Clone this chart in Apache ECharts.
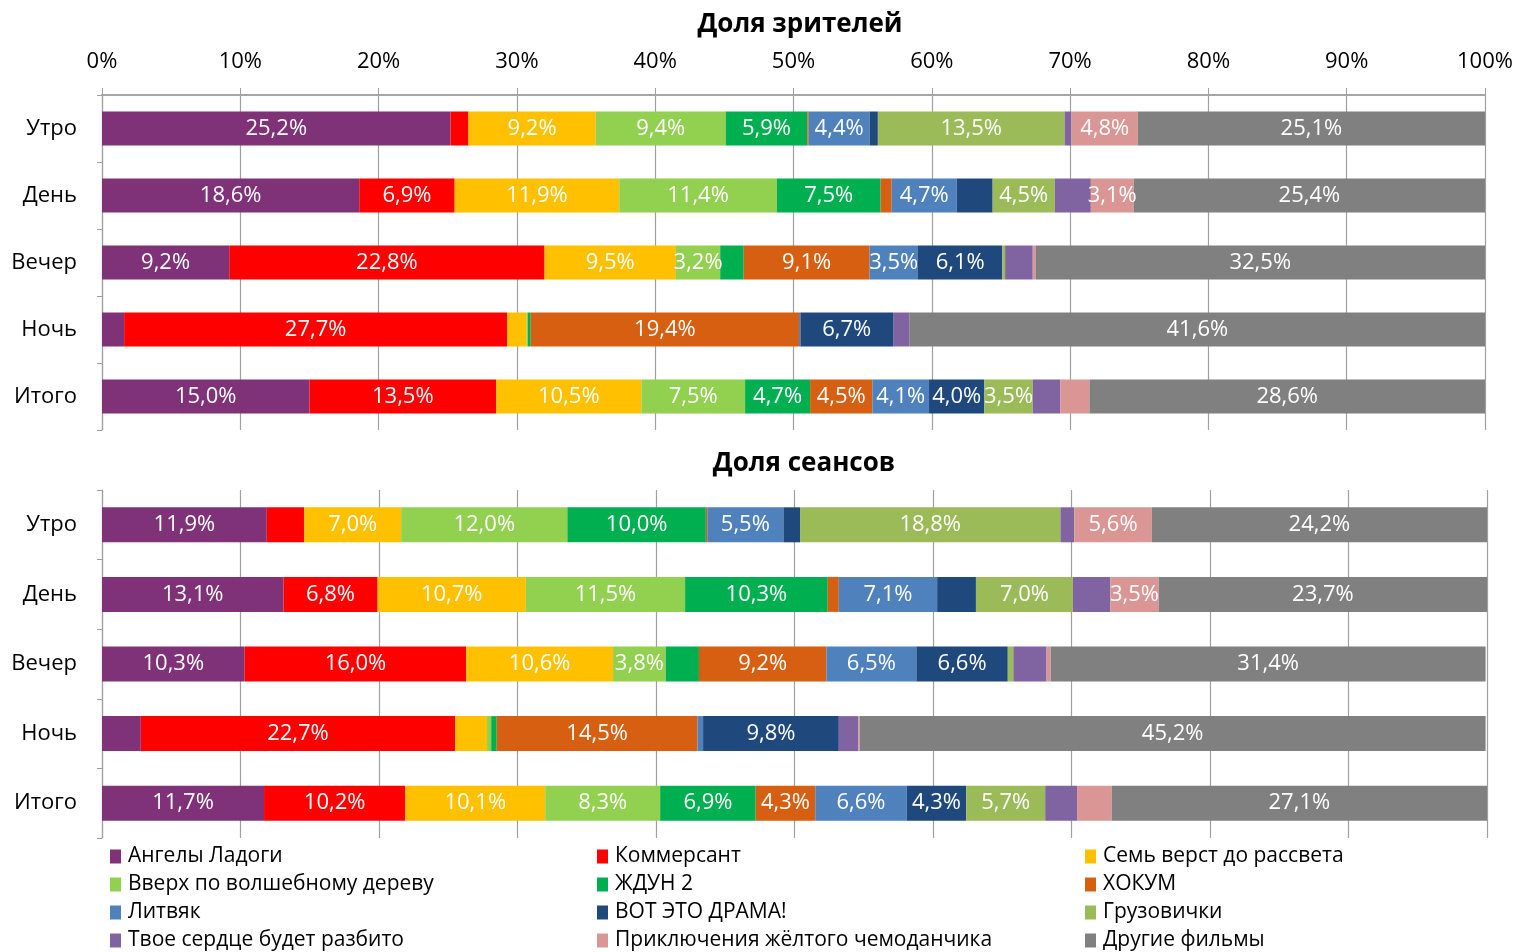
<!doctype html>
<html>
<head>
<meta charset="utf-8">
<script src="https://cdn.jsdelivr.net/npm/echarts@6/dist/echarts.min.js"></script>
<style>
  html, body { margin: 0; padding: 0; background: #fff; }
  #main { width: 1519px; height: 952px; }
</style>
</head>
<body>
<div id="main"></div>
<script>
// периоды суток
var periods = ['Утро', 'День', 'Вечер', 'Ночь', 'Итого'];

var films = ['Ангелы Ладоги', 'Коммерсант', 'Семь верст до рассвета',
  'Вверх по волшебному дереву', 'ЖДУН 2', 'ХОКУМ',
  'Литвяк', 'ВОТ ЭТО ДРАМА!', 'Грузовички',
  'Твое сердце будет разбито', 'Приключения жёлтого чемоданчика', 'Другие фильмы'];

var filmColors = ['#7F3278', '#FF0000', '#FFC000', '#92D050', '#00B050', '#D65F12',
  '#4F81BD', '#1F497D', '#9BBB59', '#8064A2', '#D99694', '#808080'];

// доля зрителей, % (Утро, День, Вечер, Ночь, Итого) по фильмам
var viewerShare = [
  [25.2, 18.6, 9.2, 1.6, 15.0],
  [1.3, 6.9, 22.8, 27.7, 13.5],
  [9.2, 11.9, 9.5, 1.4, 10.5],
  [9.4, 11.4, 3.2, 0.1, 7.5],
  [5.9, 7.5, 1.7, 0.2, 4.7],
  [0.1, 0.8, 9.1, 19.4, 4.5],
  [4.4, 4.7, 3.5, 0.1, 4.1],
  [0.6, 2.6, 6.1, 6.7, 4.0],
  [13.5, 4.5, 0.2, 0.0, 3.5],
  [0.5, 2.6, 2.0, 1.2, 2.0],
  [4.8, 3.1, 0.2, 0.0, 2.1],
  [25.1, 25.4, 32.5, 41.6, 28.6]
];

// доля сеансов, %
var sessionShare = [
  [11.9, 13.1, 10.3, 2.8, 11.7],
  [2.7, 6.8, 16.0, 22.7, 10.2],
  [7.0, 10.7, 10.6, 2.3, 10.1],
  [12.0, 11.5, 3.8, 0.3, 8.3],
  [10.0, 10.3, 2.4, 0.4, 6.9],
  [0.1, 0.8, 9.2, 14.5, 4.3],
  [5.5, 7.1, 6.5, 0.4, 6.6],
  [1.2, 2.8, 6.6, 9.8, 4.3],
  [18.8, 7.0, 0.4, 0.0, 5.7],
  [1.0, 2.7, 2.4, 1.4, 2.3],
  [5.6, 3.5, 0.3, 0.1, 2.5],
  [24.2, 23.7, 31.4, 45.2, 27.1]
];

var FONT = '"Open Sans", sans-serif';
var gridColor = '#A0A0A0';

function pct(v) {
  return v.toFixed(1).replace('.', ',') + '%';
}

function makeSeries(values, idx, barW) {
  return values.map(function (vals, i) {
    return {
      name: films[i],
      type: 'bar',
      stack: 'g' + idx,
      xAxisIndex: idx,
      yAxisIndex: idx,
      barWidth: barW,
      data: vals,
      itemStyle: { color: filmColors[i] },
      label: {
        show: true,
        position: 'inside',
        color: '#fff',
        fontFamily: FONT,
        fontSize: 22,
        formatter: function (p) { return p.value >= 3 ? pct(p.value) : ''; }
      }
    };
  });
}

function xAxisCfg(idx, withLabels) {
  return {
    type: 'value',
    gridIndex: idx,
    position: 'top',
    min: 0, max: 100, interval: 10,
    axisLine: { show: withLabels, lineStyle: { color: '#A6A6A6', width: 2 } },
    axisTick: { show: withLabels, length: 7, lineStyle: { color: gridColor } },
    axisLabel: {
      show: withLabels, margin: 22, color: '#000',
      fontFamily: FONT, fontSize: 22,
      formatter: '{value}%'
    },
    splitLine: { show: true, lineStyle: { color: gridColor, width: 1.2 } }
  };
}

function yAxisCfg(idx) {
  return {
    type: 'category',
    gridIndex: idx,
    inverse: true,
    data: periods,
    axisLine: { show: true, lineStyle: { color: gridColor, width: 1.2 } },
    axisTick: { show: true, length: 5, lineStyle: { color: gridColor } },
    axisLabel: { margin: 25, color: '#000', fontFamily: FONT, fontSize: 22 }
  };
}

function legendCol(x, items) {
  return {
    orient: 'vertical',
    left: x, top: 846, height: 140,
    padding: 0,
    icon: 'rect',
    itemWidth: 11, itemHeight: 14,
    itemGap: 7,
    data: items,
    textStyle: { color: '#000', fontFamily: FONT, fontSize: 21, lineHeight: 21, padding: [0, 0, 0, 2] }
  };
}

var chart = echarts.init(document.getElementById('main'));

chart.setOption({
  animation: false,
  backgroundColor: '#fff',
  title: [
    { text: 'Доля зрителей', left: 795, top: 7, textAlign: 'center',
      textStyle: { fontFamily: FONT, fontSize: 26, fontWeight: 'bold', color: '#000' } },
    { text: 'Доля сеансов', left: 799, top: 446, textAlign: 'center',
      textStyle: { fontFamily: FONT, fontSize: 26, fontWeight: 'bold', color: '#000' } }
  ],
  legend: [
    legendCol(110, [films[0], films[3], films[6], films[9]]),
    legendCol(597, [films[1], films[4], films[7], films[10]]),
    legendCol(1085, [films[2], films[5], films[8], films[11]])
  ],
  grid: [
    { left: 102, right: 34, top: 95, bottom: 522 },
    { left: 102, right: 32, top: 490, bottom: 114 }
  ],
  xAxis: [xAxisCfg(0, true), xAxisCfg(1, false)],
  yAxis: [yAxisCfg(0), yAxisCfg(1)],
  series: makeSeries(viewerShare, 0, 34).concat(makeSeries(sessionShare, 1, 35))
});
</script>
</body>
</html>
